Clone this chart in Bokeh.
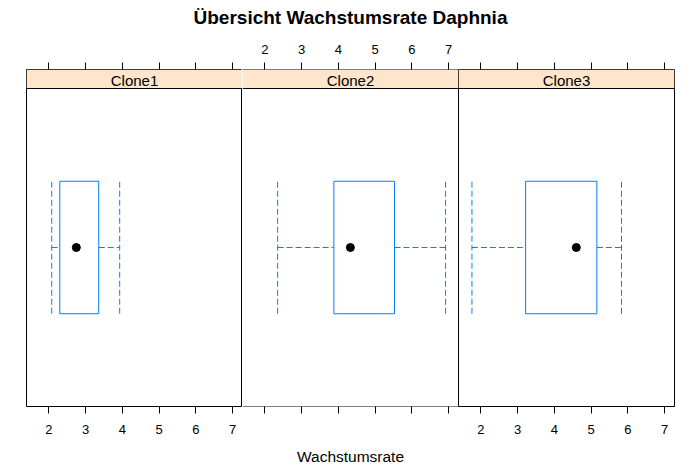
from bokeh.plotting import figure
from bokeh.models import Range1d, FixedTicker, LinearAxis, BoxAnnotation, Label, Span, ColumnDataSource
from bokeh.layouts import row, column
from bokeh.embed import file_html
from bokeh.resources import INLINE

# ---- data ----
clones = ["Clone1", "Clone2", "Clone3"]
whisker_low = [2.08, 2.35, 1.76]
q1 = [2.30, 3.88, 3.22]
median = [2.75, 4.33, 4.60]
q3 = [3.36, 5.53, 5.16]
whisker_high = [3.93, 6.92, 5.83]
x_ticks = [2, 3, 4, 5, 6, 7]
x_limits = (1.394, 7.272)
title_text = "Übersicht Wachstumsrate Daphnia"
x_label = "Wachstumsrate"

# ---- style / layout ----
FONT = "Liberation Sans"
BOX_COL = "#0080ff"
STRIP_COL = "#FFE5CC"
panel_px = 318
strip_px = 19
y_lo, y_hi = 0.4, 1.6
y_end = y_hi + (y_hi - y_lo) * strip_px / panel_px
frame_ws = [216, 216, 216]
TITLE_H = 34
TOTAL_W = 689
H = 436
TOP = 69 - TITLE_H
BOTTOM = H - TOP - panel_px - strip_px

lefts = [26, 0, 0]
rights = [0, 0, 15]
outlined = [True, False, True]
top_labels = [False, True, False]
bottom_labels = [True, False, True]

# title strip (own canvas so the text spans all panels)
tp = figure(width=TOTAL_W, height=TITLE_H, x_range=Range1d(0, TOTAL_W), y_range=Range1d(0, TITLE_H),
            output_backend="svg", toolbar_location=None,
            x_axis_location=None, y_axis_location=None, min_border=0)
tp.outline_line_color = None
tp.grid.visible = False
tp.add_layout(Label(x=350, y=TITLE_H - 17, text=title_text,
                    text_align="center", text_baseline="alphabetic",
                    text_font=FONT, text_font_size="19px", text_font_style="bold",
                    text_color="black"))

figs = []
for i, name in enumerate(clones):
    p = figure(width=frame_ws[i] + lefts[i] + rights[i], height=H,
               x_range=Range1d(*x_limits), y_range=Range1d(y_lo, y_end),
               output_backend="svg", toolbar_location=None,
               x_axis_location=None, y_axis_location=None,
               min_border_left=lefts[i], min_border_right=rights[i],
               min_border_top=TOP, min_border_bottom=BOTTOM)
    p.outline_line_color = "black" if outlined[i] else None
    p.outline_line_width = 1
    p.outline_line_alpha = 1
    p.background_fill_color = "white"
    p.border_fill_color = "white"
    p.grid.visible = False

    for loc, show in (("below", bottom_labels[i]), ("above", top_labels[i])):
        ax = LinearAxis(ticker=FixedTicker(ticks=x_ticks))
        ax.axis_line_color = None
        ax.major_tick_in = 0
        ax.major_tick_out = 7
        ax.major_tick_line_color = "black"
        ax.minor_tick_line_color = None
        ax.major_label_text_font = FONT
        ax.major_label_text_font_size = "13px"
        ax.major_label_text_color = "black"
        ax.major_label_standoff = 11 if loc == "below" else 9
        if not show:
            ax.major_label_overrides = {t: "" for t in x_ticks}
        if loc == "below" and i == 1:
            ax.axis_label = x_label
            ax.axis_label_text_font = FONT
            ax.axis_label_text_font_size = "15.5px"
            ax.axis_label_text_font_style = "normal"
            ax.axis_label_text_color = "black"
            ax.axis_label_standoff = 34
        p.add_layout(ax, loc)

    # strip
    p.add_layout(BoxAnnotation(bottom=y_hi, fill_color=STRIP_COL, fill_alpha=1,
                               line_color=None, level="underlay"))
    p.add_layout(Label(x=sum(x_limits) / 2, y=(y_hi + y_end) / 2, text=name,
                       text_align="center", text_baseline="middle", y_offset=-1,
                       text_font=FONT, text_font_size="15px", text_color="black"))

    # horizontal frame lines; vertical edges come from neighbours' outlines
    spans = [Span(location=y_hi, dimension="width")]
    if not outlined[i]:
        spans += [Span(location=y_lo, dimension="width"), Span(location=y_end, dimension="width")]
    for s in spans:
        s.line_color = "black"
        s.line_width = 1
        p.add_layout(s)

    src = ColumnDataSource(dict(
        x0=[whisker_low[i], q3[i]], x1=[q1[i], whisker_high[i]],
        cx=[whisker_low[i], whisker_high[i]]))
    # whiskers
    p.segment(x0="x0", x1="x1", y0=1, y1=1, source=src,
              line_color=BOX_COL, line_dash="6 3", line_width=1)
    p.segment(x0="cx", x1="cx", y0=0.75, y1=1.25, source=src,
              line_color=BOX_COL, line_dash="6 3", line_width=1)
    # box
    p.quad(left=[q1[i]], right=[q3[i]], bottom=[0.75], top=[1.25],
           fill_color=None, line_color=BOX_COL, line_width=1)
    # median dot
    p.scatter(x=[median[i]], y=[1], size=8, color="black")
    figs.append(p)

layout = column(tp, row(*figs, spacing=0), spacing=0)
open("out.html", "w").write(file_html(layout, INLINE))
